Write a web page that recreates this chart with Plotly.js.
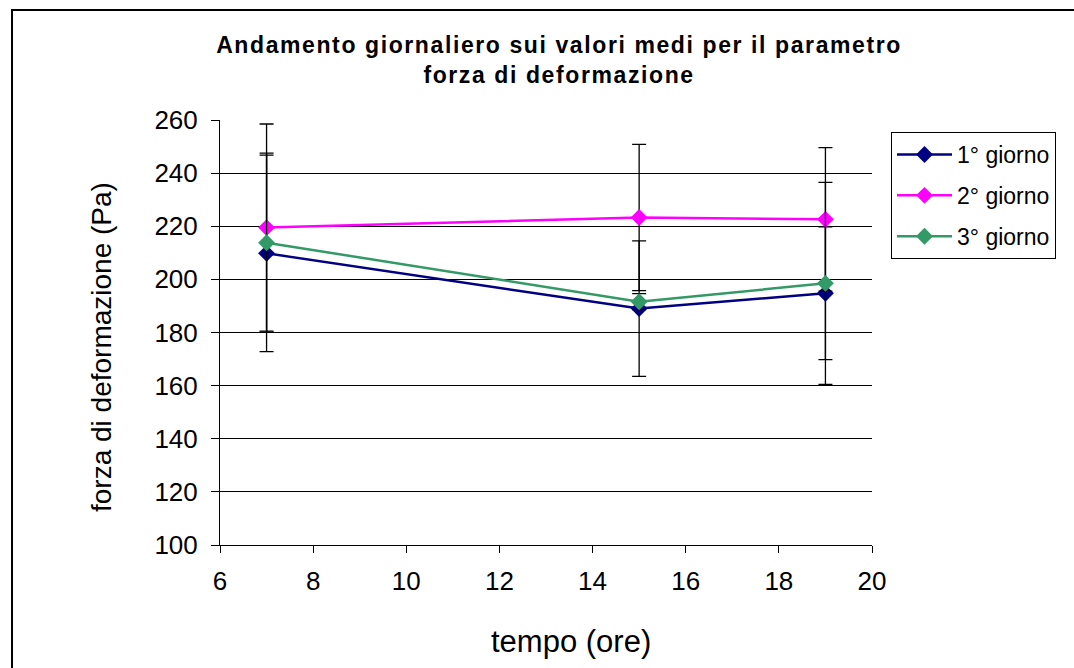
<!DOCTYPE html>
<html><head><meta charset="utf-8">
<script src="https://cdn.plot.ly/plotly-3.0.1.min.js"></script>
<style>body{margin:0;background:#fff}#c{width:1074px;height:668px}
.gtitle{letter-spacing:1.6px}</style>
</head><body><div id="c"></div>
<script>
const hours = [7, 15, 19];
const seriesNames = ["1° giorno", "2° giorno", "3° giorno"];
const day1 = [209.8, 189.0, 194.8];
const day2 = [219.5, 223.3, 222.6];
const day3 = [213.8, 191.6, 198.5];
const err1 = [37, 25.5, 25];
const err2 = [39, 27.5, 27];
const err3 = [33.7, 3, 38];
const xTicks = [6, 8, 10, 12, 14, 16, 18, 20];
const yTicks = [100, 120, 140, 160, 180, 200, 220, 240, 260];
const colors = ["#000080", "#FF00FF", "#339966"];

const vals = [day1, day2, day3];
const errs = [err1, err2, err3];
const traces = vals.map((v, i) => ({
  x: hours, y: v, name: seriesNames[i], type: 'scatter', mode: 'lines+markers',
  legendgroup: 'g' + i,
  line: {color: colors[i], width: 2.5},
  marker: {symbol: 'diamond', size: 13, color: colors[i]},
  error_y: {type: 'data', array: errs[i], visible: true, color: '#000', thickness: 1.3, width: 7}
}));

const font = "Liberation Sans, Arial, sans-serif";
const layout = {
  width: 1074, height: 668,
  margin: {l: 220, r: 202, t: 120, b: 123},
  paper_bgcolor: '#fff', plot_bgcolor: '#fff',
  font: {family: font, color: '#000'},
  title: {text: '<b>Andamento giornaliero sui valori medi per il parametro<br>forza di deformazione</b>',
          x: 0.52, xref: 'paper', xanchor: 'center', y: 0.921, yanchor: 'top',
          font: {size: 23, family: font, color: '#000'}},
  xaxis: {range: [6, 20], tickvals: xTicks, showgrid: false, zeroline: false,
          showline: true, linecolor: '#000', linewidth: 1, ticks: 'outside', ticklen: 7, tickcolor: '#000',
          ticklabelstandoff: 6, tickfont: {size: 26}},
  yaxis: {range: [100, 260], tickvals: yTicks, showgrid: true,
          gridcolor: '#000', gridwidth: 1, zeroline: false,
          showline: true, linecolor: '#000', linewidth: 1, ticks: 'outside', ticklen: 8, tickcolor: '#000',
          ticklabelstandoff: 8, tickfont: {size: 26}},
  annotations: [
    {text: 'tempo (ore)', xref: 'paper', yref: 'paper', x: (571 - 220) / 652, y: (545 - 641) / 425,
     xanchor: 'center', yanchor: 'middle', showarrow: false, font: {size: 31}},
    {text: 'forza di deformazione (Pa)', xref: 'paper', yref: 'paper', x: (101 - 220) / 652, y: (545 - 347) / 425,
     xanchor: 'center', yanchor: 'middle', showarrow: false, textangle: -90, font: {size: 28}}
  ],
  legend: {x: (891 - 220) / 652, xanchor: 'left', y: (545 - 132) / 425, yanchor: 'top', bordercolor: '#000', borderwidth: 1,
           bgcolor: '#fff', font: {size: 23}, traceorder: 'grouped', tracegroupgap: 8, itemwidth: 55},
  shapes: [{type: 'rect', xref: 'paper', yref: 'paper', x0: -0.319, x1: 1.5, y0: -0.4, y1: 1.2588,
            line: {color: '#000', width: 2}, fillcolor: 'rgba(0,0,0,0)', layer: 'below'}],
  showlegend: true
};
Plotly.newPlot('c', traces, layout, {displayModeBar: false, staticPlot: true});
</script></body></html>
